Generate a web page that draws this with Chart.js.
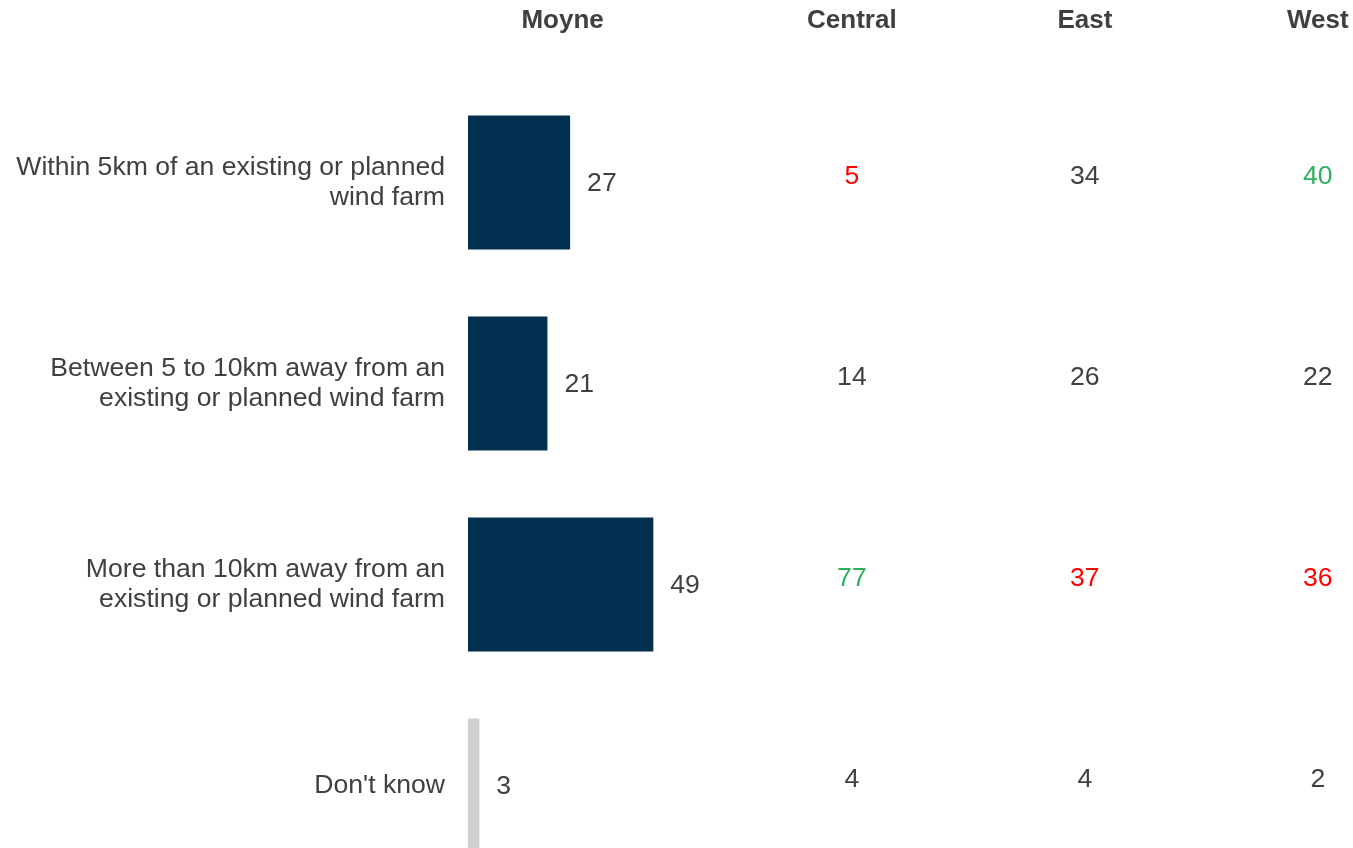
<!DOCTYPE html>
<html>
<head>
<meta charset="utf-8">
<script src="https://cdn.jsdelivr.net/npm/chart.js@4/dist/chart.umd.min.js"></script>
<style>
  html, body { margin: 0; padding: 0; background: #fff; overflow: hidden; }
  #wrap { width: 1353px; height: 886px; }
</style>
</head>
<body>
<div id="wrap"><canvas id="chart" width="1353" height="886"></canvas></div>
<script>
// data
const categories = [
  ['Within 5km of an existing or planned', 'wind farm'],
  ['Between 5 to 10km away from an', 'existing or planned wind farm'],
  ['More than 10km away from an', 'existing or planned wind farm'],
  "Don't know"
];
const columnTitles = ['Moyne', 'Central', 'East', 'West'];
const moyne = [27, 21, 49, 3];
const central = [5, 14, 77, 4];
const east = [34, 26, 37, 4];
const west = [40, 22, 36, 2];

// look
const FONT = '"Liberation Sans", Arial, sans-serif';
const TEXT = '#404040';
const RED = '#FF0000';
const GREEN = '#2EAF5E';
const barColors = ['#002F4F', '#002F4F', '#002F4F', '#D0CECE'];
const otherCols = [
  { values: central, at: 101.5, colors: [RED, TEXT, GREEN, TEXT] },
  { values: east, at: 163.1, colors: [TEXT, TEXT, RED, TEXT] },
  { values: west, at: 224.7, colors: [GREEN, TEXT, RED, TEXT] }
];
const headerAt = [25, 101.5, 163.1, 224.7];

const tablePlugin = {
  id: 'table',
  afterDatasetsDraw(chart) {
    const ctx = chart.ctx;
    const x = chart.scales.x;
    const y = chart.scales.y;
    ctx.save();
    ctx.textBaseline = 'middle';

    // column headers
    ctx.font = 'bold 26px ' + FONT;
    ctx.fillStyle = TEXT;
    ctx.textAlign = 'center';
    columnTitles.forEach((t, i) => {
      ctx.fillText(t, x.getPixelForValue(headerAt[i]), 21);
    });

    // Moyne value labels next to bars
    ctx.font = '26.6px ' + FONT;
    ctx.textAlign = 'left';
    const meta = chart.getDatasetMeta(0);
    meta.data.forEach((bar, i) => {
      ctx.fillStyle = TEXT;
      ctx.fillText(String(moyne[i]), bar.x + 17, bar.y + 1);
    });

    // other regions as text columns
    ctx.textAlign = 'center';
    otherCols.forEach(col => {
      col.values.forEach((v, i) => {
        ctx.fillStyle = col.colors[i];
        ctx.fillText(String(v), x.getPixelForValue(col.at), y.getPixelForValue(i) - 6);
      });
    });
    ctx.restore();
  }
};

new Chart(document.getElementById('chart'), {
  type: 'bar',
  data: {
    labels: categories,
    datasets: [{
      label: 'Moyne',
      data: moyne,
      backgroundColor: barColors,
      borderWidth: 0,
      categoryPercentage: 1,
      barPercentage: 0.667
    }]
  },
  options: {
    indexAxis: 'y',
    responsive: false,
    animation: false,
    devicePixelRatio: 1,
    layout: { padding: { top: 82, right: 0, bottom: 0, left: 0 } },
    scales: {
      x: {
        min: 0,
        max: 234,
        display: false,
        grid: { display: false }
      },
      y: {
        grid: { display: false, drawTicks: false },
        border: { display: false },
        afterFit(scale) {
          scale.width = 468;
          scale.paddingTop = 0;
          scale.paddingBottom = 0;
        },
        ticks: {
          color: TEXT,
          padding: 23,
          font: { family: FONT, size: 26.6, lineHeight: 1.13 }
        }
      }
    },
    plugins: {
      legend: { display: false },
      tooltip: { enabled: false }
    }
  },
  plugins: [tablePlugin]
});
</script>
</body>
</html>
